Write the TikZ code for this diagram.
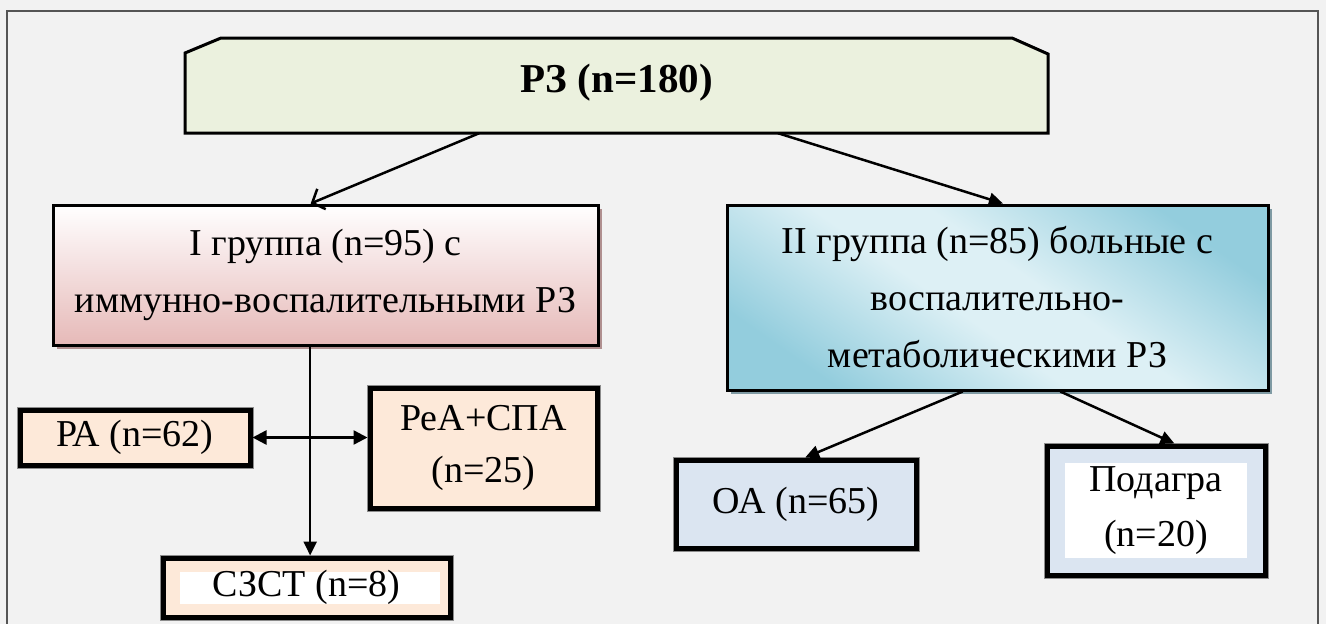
\documentclass[tikz,border=0pt]{standalone}
\usepackage{fontspec}
\setmainfont{LiberationSerif}[Extension=.ttf, UprightFont=*-Regular, BoldFont=*-Bold, ItalicFont=*-Italic, BoldItalicFont=*-BoldItalic]
\newfontfamily\tnr{LiberationSerif}[Extension=.ttf, UprightFont=*-Regular, BoldFont=*-Bold, ItalicFont=*-Italic, BoldItalicFont=*-BoldItalic]
\usetikzlibrary{arrows.meta,shadows,calc}
\definecolor{bg}{HTML}{F2F2F2}
\definecolor{frame}{HTML}{555555}
\definecolor{topfill}{HTML}{EBF1DE}
\definecolor{pinkbot}{HTML}{E6B9B8}
\definecolor{pinkshadow}{HTML}{B09090}
\definecolor{blueL}{HTML}{DDF0F5}
\definecolor{blueD}{HTML}{93CDDD}
\definecolor{blueshadow}{HTML}{7F9AA3}
\definecolor{peach}{HTML}{FDE9D9}
\definecolor{lblue}{HTML}{DBE5F1}
\definecolor{outline}{HTML}{8C8C8C}
\pgfdeclarehorizontalshading{grpIIshade}{100bp}{color(0bp)=(blueD); color(25bp)=(blueD); color(45bp)=(blueL); color(55bp)=(blueL); color(75bp)=(blueD); color(100bp)=(blueD)}
\tikzset{
  txt/.style={font=\tnr\fontsize{38}{57}\selectfont, align=center, inner sep=0pt},
  groupbox/.style={draw=black, line width=3pt, inner sep=0pt, txt},
  smallbox/.style={draw=black, line width=5pt, inner sep=0pt, txt, fill=peach,
    preaction={draw=outline, line width=7pt}},
  bluebox/.style={smallbox, fill=lblue},
  core/.style={fill=white},
  conn/.style={line width=2.5pt, draw=black},
  tri/.style={-{Triangle[length=14pt,width=13pt]}},
  barb/.style={-{Straight Barb[length=10pt,width=22pt,line width=2.5pt]}},
}
\begin{document}
\begin{tikzpicture}[x=1pt,y=-1pt]
\useasboundingbox (0,0) rectangle (1326,624);
\fill[bg] (0,0) rectangle (1326,624);
\draw[frame, line width=1.5pt] (7,640) -- (7,11) -- (1318,11) -- (1318,640);

% top box
\fill[topfill] (185,133) -- (185,53) -- (221,38) -- (1012,38) -- (1048,54) -- (1048,133) -- cycle;
\draw[line width=3pt, line join=miter] (185,133) -- (185,53) -- (221,38) -- (1012,38) -- (1048,54) -- (1048,133) -- cycle;
\node[txt, font=\tnr\fontsize{41}{57}\selectfont\bfseries, minimum width=863pt, minimum height=100pt] (top) at (616.5,83) {РЗ (n=180)};

% group I
\fill[pinkshadow] (57,209) rectangle (602,349);
\node[groupbox, top color=white, bottom color=pinkbot, minimum width=545pt, minimum height=140pt] (g1) at (325.5,275) {I группа (n=95) с\\иммунно-воспалительными РЗ};

% group II
\fill[blueshadow] (731,209) rectangle (1272,394);
\node[groupbox, shading=grpIIshade, shading angle=55, minimum width=541pt, minimum height=185pt] (g2) at (997.5,297.5) {II группа (n=85) больные с\\воспалительно-\\метаболическими РЗ};

% small boxes
\node[smallbox, minimum width=230pt, minimum height=55pt] (pa) at (135,437.5) {РА (n=62)};
\node[smallbox, minimum width=227pt, minimum height=120pt, font=\tnr\fontsize{38}{52}\selectfont] (pea) at (483.5,448) {РеА+СПА\\(n=25)};
\node[smallbox, minimum width=287pt, minimum height=59pt] (szst) at (306.5,587.5) {};
\fill[core] (180,572) rectangle (440,604);
\node[txt] (szsttxt) at (szst) {СЗСТ (n=8)};
\node[bluebox, minimum width=240pt, minimum height=88pt] (oa) at (796,504) {ОА (n=65)};
\node[bluebox, minimum width=218pt, minimum height=129pt] (pod) at (1156,510.5) {};
\fill[core] (1065,463) rectangle (1247,558);
\node[txt, font=\tnr\fontsize{38}{55}\selectfont] (podtxt) at (pod) {Подагра\\(n=20)};

% connectors
\draw[conn, barb] ($(top.south west)!0.341!(top.south east)$) -- ($(g1.north west)!0.473!(g1.north east)$);
\draw[conn, tri] ($(top.south west)!0.687!(top.south east)$) -- ($(g2.north west)!0.51!(g2.north east)$);
\coordinate (g1out) at ($(g1.south west)!0.472!(g1.south east)$);
\draw[conn, tri] (g1out) -- (g1out |- szst.north);
\draw[conn, {Triangle[length=14pt,width=14pt]}-{Triangle[length=14pt,width=14pt]}] (pa.east) -- (pea.west |- pa.east);
\draw[conn, tri] ($(g2.south west)!0.436!(g2.south east)$) -- ($(oa.north west)!0.5375!(oa.north east)$);
\draw[conn, tri] ($(g2.south west)!0.6155!(g2.south east)$) -- ($(pod.north west)!0.5826!(pod.north east)$);
\end{tikzpicture}
\end{document}
